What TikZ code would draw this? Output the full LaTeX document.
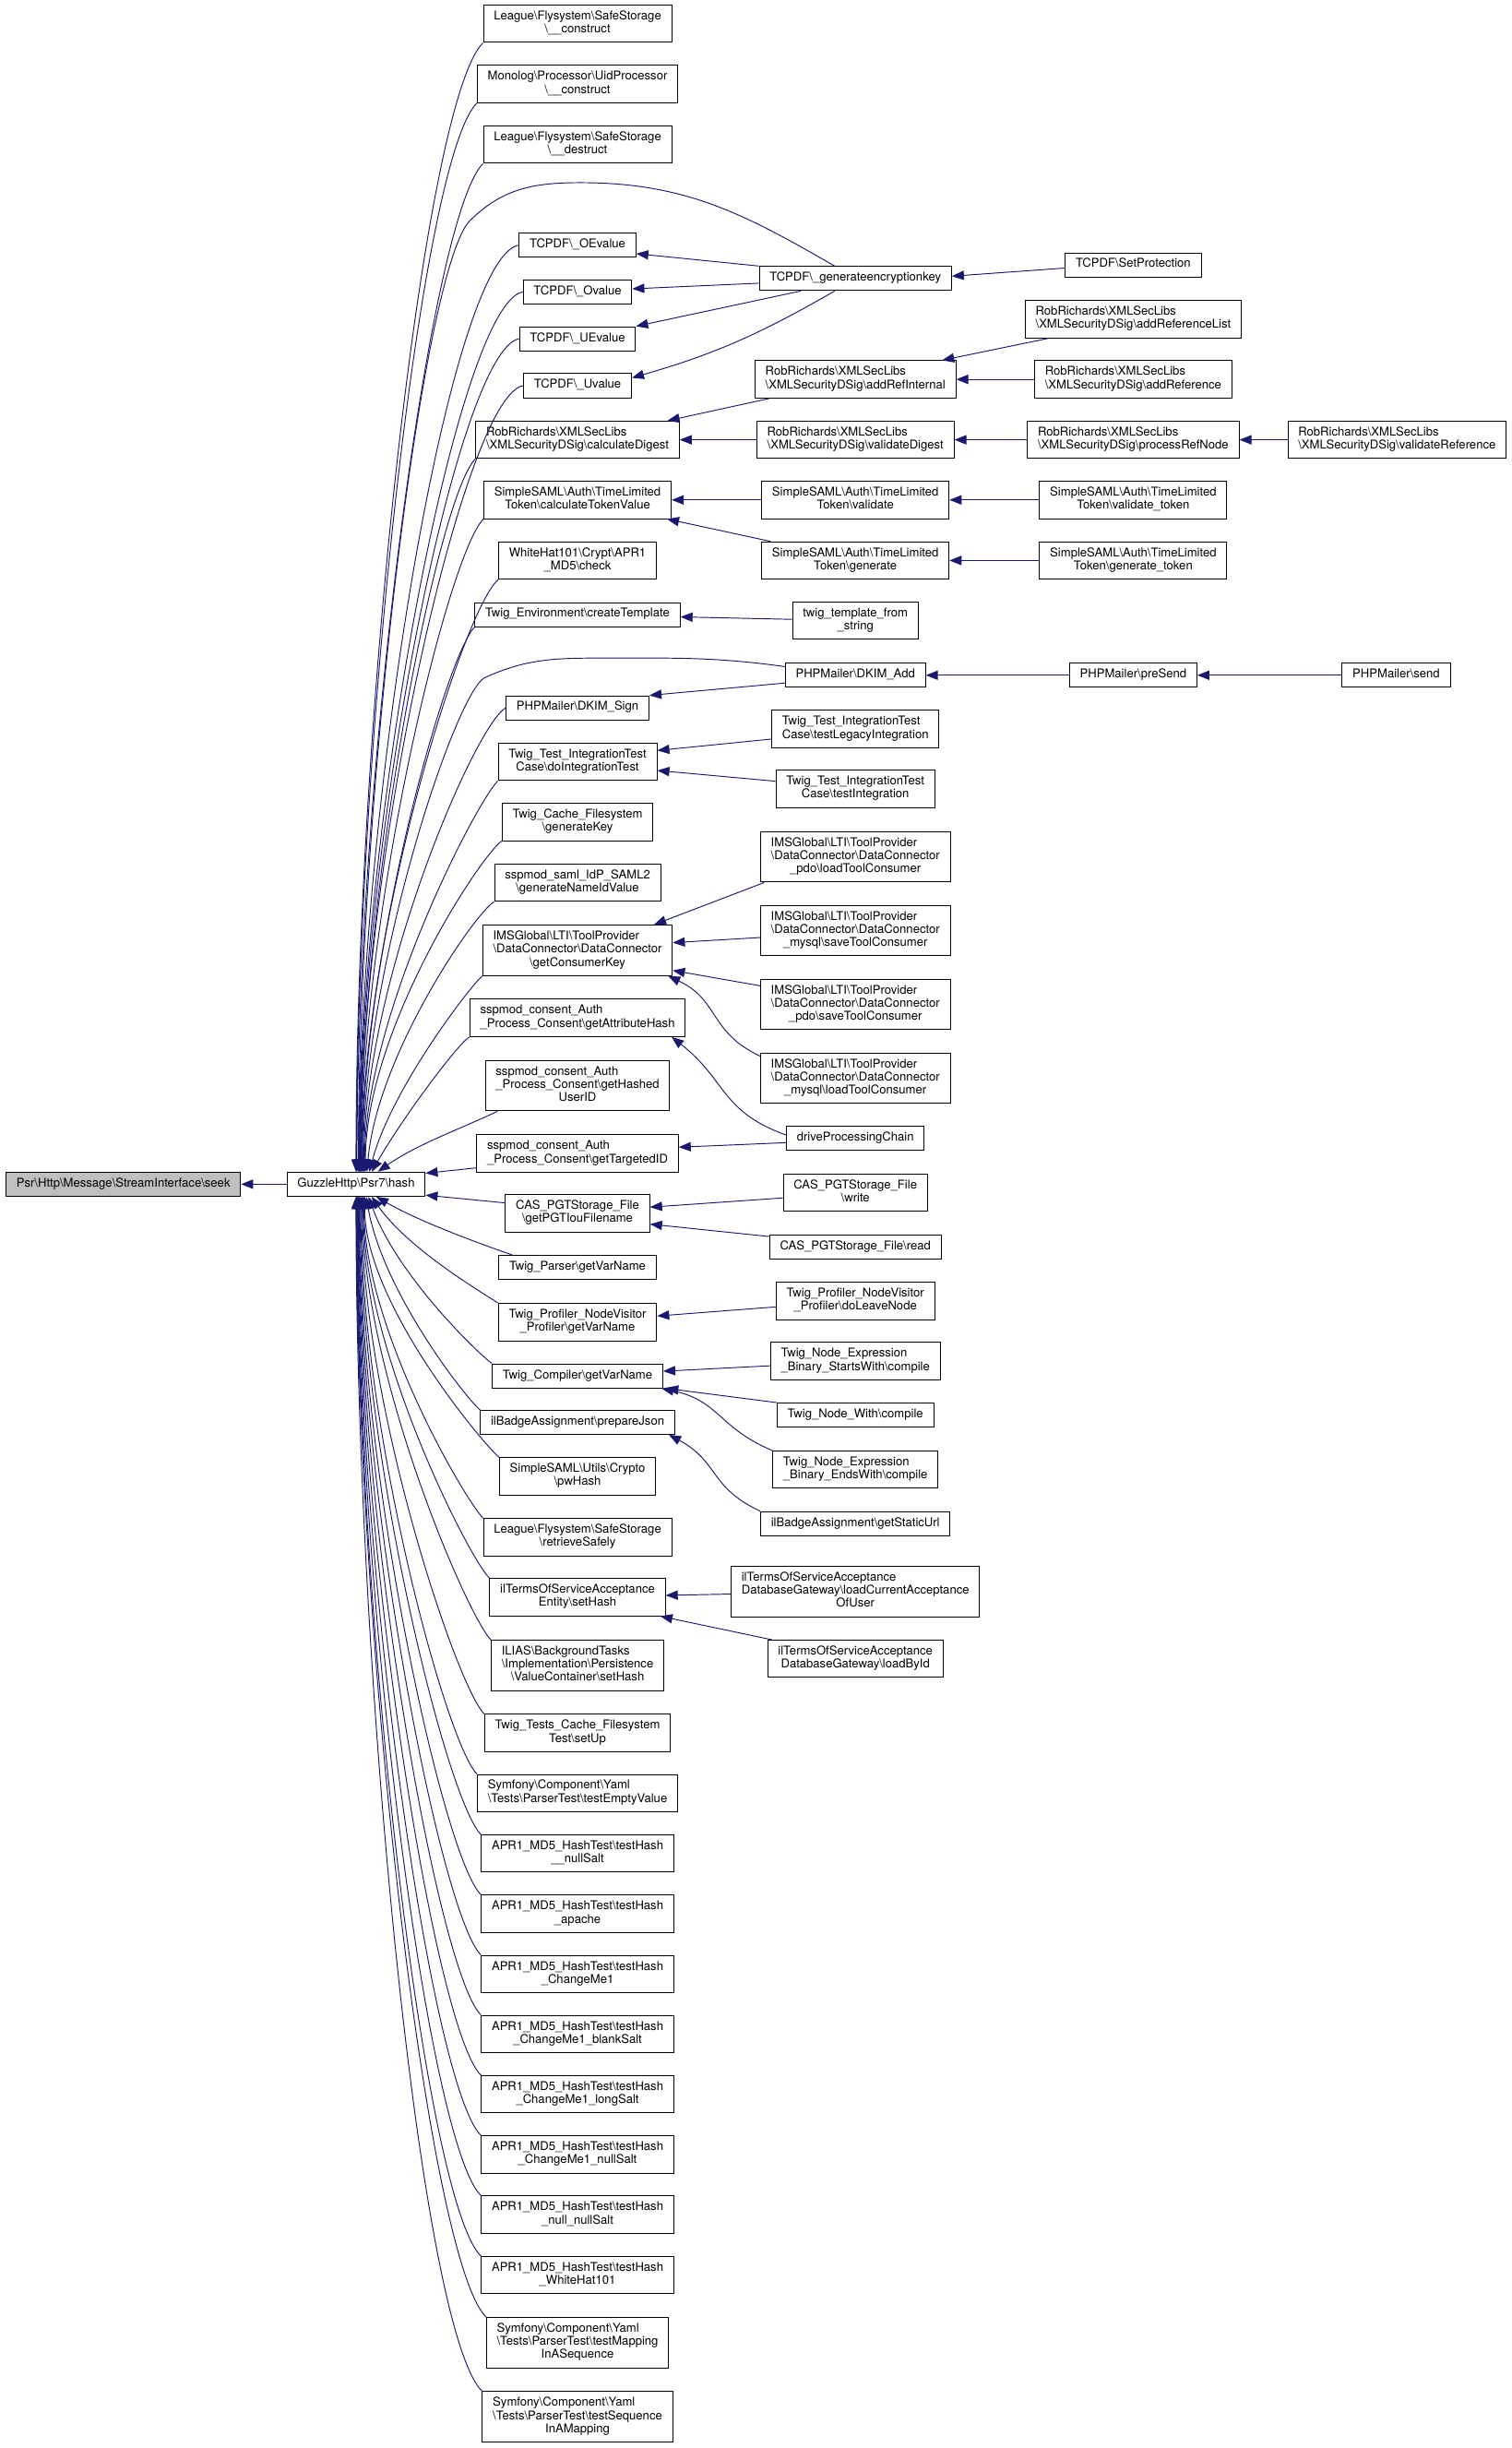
\documentclass[tikz,border=0pt]{standalone}
\usepackage{fontspec}
\setmainfont{TeX Gyre Heros}
\usetikzlibrary{arrows.meta,calc}
\definecolor{edgeblue}{HTML}{191970}
\definecolor{rootgray}{HTML}{BFBFBF}
\newcommand{\bsl}{\textbackslash}
\newcommand{\fni}[1]{\begin{tabular}{@{}c@{}}#1\end{tabular}}
\newcommand{\fnii}[2]{\begin{tabular}{@{}l@{}}#1\\\multicolumn{1}{@{}c@{}}{#2}\end{tabular}}
\newcommand{\fniii}[3]{\begin{tabular}{@{}l@{}}#1\\#2\\\multicolumn{1}{@{}c@{}}{#3}\end{tabular}}
\begin{document}
\begin{tikzpicture}[x=0.05cm, y=0.05cm,
	fn/.style={draw=black, line width=0.8pt, fill=white, inner xsep=9.5pt, inner ysep=5pt, font=\fontsize{11}{12}\selectfont},
	rootfn/.style={fn, fill=rootgray},
	calledge/.style={draw=edgeblue, line width=0.8pt, -{Triangle[length=11pt, width=8.5pt]}}]
	\useasboundingbox (0,0) rectangle (968.6,-1568);
	% root and hash
	\node[rootfn] (seek) at (79,-758.5) {\fni{Psr\bsl Http\bsl Message\bsl StreamInterface\bsl seek}};
	\node[fn] (hash) at (228.1,-758.5) {\fni{GuzzleHttp\bsl Psr7\bsl hash}};
	% first column
	\node[fn] (lfcon) at (370,-15.2) {\fnii{League\bsl Flysystem\bsl SafeStorage}{\bsl\_\_construct}};
	\node[fn] (mocon) at (370,-53.8) {\fnii{Monolog\bsl Processor\bsl UidProcessor}{\bsl\_\_construct}};
	\node[fn] (lfdes) at (370,-92.6) {\fnii{League\bsl Flysystem\bsl SafeStorage}{\bsl\_\_destruct}};
	\node[fn] (oev) at (370,-157) {\fni{TCPDF\bsl\_OEvalue}};
	\node[fn] (ov) at (370,-187) {\fni{TCPDF\bsl\_Ovalue}};
	\node[fn] (uev) at (370,-217) {\fni{TCPDF\bsl\_UEvalue}};
	\node[fn] (uv) at (370,-247) {\fni{TCPDF\bsl\_Uvalue}};
	\node[fn] (cdig) at (370,-281.7) {\fnii{RobRichards\bsl XMLSecLibs}{\bsl XMLSecurityDSig\bsl calculateDigest}};
	\node[fn] (ctok) at (370,-320.2) {\fnii{SimpleSAML\bsl Auth\bsl TimeLimited}{Token\bsl calculateTokenValue}};
	\node[fn] (apchk) at (370,-359) {\fnii{WhiteHat101\bsl Crypt\bsl APR1}{\_MD5\bsl check}};
	\node[fn] (ctpl) at (370,-393.7) {\fni{Twig\_Environment\bsl createTemplate}};
	\node[fn] (dsign) at (370,-453.4) {\fni{PHPMailer\bsl DKIM\_Sign}};
	\node[fn] (doint) at (370,-488) {\fnii{Twig\_Test\_IntegrationTest}{Case\bsl doIntegrationTest}};
	\node[fn] (gkey) at (370,-526.5) {\fnii{Twig\_Cache\_Filesystem}{\bsl generateKey}};
	\node[fn] (gnid) at (370,-565.4) {\fnii{sspmod\_saml\_IdP\_SAML2}{\bsl generateNameIdValue}};
	\node[fn] (gck) at (370,-608.7) {\fniii{IMSGlobal\bsl LTI\bsl ToolProvider}{\bsl DataConnector\bsl DataConnector}{\bsl getConsumerKey}};
	\node[fn] (gah) at (370,-652) {\fnii{sspmod\_consent\_Auth}{\_Process\_Consent\bsl getAttributeHash}};
	\node[fn] (ghu) at (370,-695.4) {\fniii{sspmod\_consent\_Auth}{\_Process\_Consent\bsl getHashed}{UserID}};
	\node[fn] (gtid) at (370,-738.8) {\fnii{sspmod\_consent\_Auth}{\_Process\_Consent\bsl getTargetedID}};
	\node[fn] (pgt) at (370,-777.2) {\fnii{CAS\_PGTStorage\_File}{\bsl getPGTIouFilename}};
	\node[fn] (tpvar) at (370,-811.9) {\fni{Twig\_Parser\bsl getVarName}};
	\node[fn] (pfvar) at (370,-846.8) {\fnii{Twig\_Profiler\_NodeVisitor}{\_Profiler\bsl getVarName}};
	\node[fn] (tcvar) at (370,-881.3) {\fni{Twig\_Compiler\bsl getVarName}};
	\node[fn] (pjson) at (370,-911) {\fni{ilBadgeAssignment\bsl prepareJson}};
	\node[fn] (pwh) at (370,-945.6) {\fnii{SimpleSAML\bsl Utils\bsl Crypto}{\bsl pwHash}};
	\node[fn] (rsafe) at (370,-984.5) {\fnii{League\bsl Flysystem\bsl SafeStorage}{\bsl retrieveSafely}};
	\node[fn] (tsh) at (370,-1023) {\fnii{ilTermsOfServiceAcceptance}{Entity\bsl setHash}};
	\node[fn] (ish) at (370,-1066.7) {\fniii{ILIAS\bsl BackgroundTasks}{\bsl Implementation\bsl Persistence}{\bsl ValueContainer\bsl setHash}};
	\node[fn] (setup) at (370,-1110) {\fnii{Twig\_Tests\_Cache\_Filesystem}{Test\bsl setUp}};
	\node[fn] (tev) at (370,-1148.5) {\fnii{Symfony\bsl Component\bsl Yaml}{\bsl Tests\bsl ParserTest\bsl testEmptyValue}};
	\node[fn] (th1) at (370,-1187.2) {\fnii{APR1\_MD5\_HashTest\bsl testHash}{\_\_nullSalt}};
	\node[fn] (th2) at (370,-1225.8) {\fnii{APR1\_MD5\_HashTest\bsl testHash}{\_apache}};
	\node[fn] (th3) at (370,-1264.4) {\fnii{APR1\_MD5\_HashTest\bsl testHash}{\_ChangeMe1}};
	\node[fn] (th4) at (370,-1302.8) {\fnii{APR1\_MD5\_HashTest\bsl testHash}{\_ChangeMe1\_blankSalt}};
	\node[fn] (th5) at (370,-1341.4) {\fnii{APR1\_MD5\_HashTest\bsl testHash}{\_ChangeMe1\_longSalt}};
	\node[fn] (th6) at (370,-1380) {\fnii{APR1\_MD5\_HashTest\bsl testHash}{\_ChangeMe1\_nullSalt}};
	\node[fn] (th7) at (370,-1418.5) {\fnii{APR1\_MD5\_HashTest\bsl testHash}{\_null\_nullSalt}};
	\node[fn] (th8) at (370,-1457.3) {\fnii{APR1\_MD5\_HashTest\bsl testHash}{\_WhiteHat101}};
	\node[fn] (tmap) at (370,-1500.5) {\fniii{Symfony\bsl Component\bsl Yaml}{\bsl Tests\bsl ParserTest\bsl testMapping}{InASequence}};
	\node[fn] (tseq) at (370,-1548) {\fniii{Symfony\bsl Component\bsl Yaml}{\bsl Tests\bsl ParserTest\bsl testSequence}{InAMapping}};
	% second column
	\node[fn] (gek) at (548,-178.4) {\fni{TCPDF\bsl\_generateencryptionkey}};
	\node[fn] (ari) at (548,-243) {\fnii{RobRichards\bsl XMLSecLibs}{\bsl XMLSecurityDSig\bsl addRefInternal}};
	\node[fn] (vdig) at (548,-281.7) {\fnii{RobRichards\bsl XMLSecLibs}{\bsl XMLSecurityDSig\bsl validateDigest}};
	\node[fn] (tval) at (548,-320.2) {\fnii{SimpleSAML\bsl Auth\bsl TimeLimited}{Token\bsl validate}};
	\node[fn] (tgen) at (548,-359) {\fnii{SimpleSAML\bsl Auth\bsl TimeLimited}{Token\bsl generate}};
	\node[fn] (tfs) at (548,-397.6) {\fnii{twig\_template\_from}{\_string}};
	\node[fn] (dadd) at (548,-432.5) {\fni{PHPMailer\bsl DKIM\_Add}};
	\node[fn] (tli) at (548,-467) {\fnii{Twig\_Test\_IntegrationTest}{Case\bsl testLegacyIntegration}};
	\node[fn] (tin) at (548,-505.3) {\fnii{Twig\_Test\_IntegrationTest}{Case\bsl testIntegration}};
	\node[fn] (ims1) at (548,-548.8) {\fniii{IMSGlobal\bsl LTI\bsl ToolProvider}{\bsl DataConnector\bsl DataConnector}{\_pdo\bsl loadToolConsumer}};
	\node[fn] (ims2) at (548,-596) {\fniii{IMSGlobal\bsl LTI\bsl ToolProvider}{\bsl DataConnector\bsl DataConnector}{\_mysql\bsl saveToolConsumer}};
	\node[fn] (ims3) at (548,-643.3) {\fniii{IMSGlobal\bsl LTI\bsl ToolProvider}{\bsl DataConnector\bsl DataConnector}{\_pdo\bsl saveToolConsumer}};
	\node[fn] (ims4) at (548,-690.6) {\fniii{IMSGlobal\bsl LTI\bsl ToolProvider}{\bsl DataConnector\bsl DataConnector}{\_mysql\bsl loadToolConsumer}};
	\node[fn] (dpc) at (548,-729.2) {\fni{driveProcessingChain}};
	\node[fn] (pgw) at (548,-763.9) {\fnii{CAS\_PGTStorage\_File}{\bsl write}};
	\node[fn] (pgr) at (548,-798.7) {\fni{CAS\_PGTStorage\_File\bsl read}};
	\node[fn] (dln) at (548,-833.2) {\fnii{Twig\_Profiler\_NodeVisitor}{\_Profiler\bsl doLeaveNode}};
	\node[fn] (bsw) at (548,-871.8) {\fnii{Twig\_Node\_Expression}{\_Binary\_StartsWith\bsl compile}};
	\node[fn] (nwc) at (548,-906.4) {\fni{Twig\_Node\_With\bsl compile}};
	\node[fn] (bew) at (548,-941.3) {\fnii{Twig\_Node\_Expression}{\_Binary\_EndsWith\bsl compile}};
	\node[fn] (gsu) at (548,-975.9) {\fni{ilBadgeAssignment\bsl getStaticUrl}};
	\node[fn] (lca) at (548,-1019.4) {\fniii{ilTermsOfServiceAcceptance}{DatabaseGateway\bsl loadCurrentAcceptance}{OfUser}};
	\node[fn] (lbi) at (548,-1062.5) {\fnii{ilTermsOfServiceAcceptance}{DatabaseGateway\bsl loadById}};
	% third and fourth column
	\node[fn] (setp) at (726,-169.7) {\fni{TCPDF\bsl SetProtection}};
	\node[fn] (arl) at (726,-204.5) {\fnii{RobRichards\bsl XMLSecLibs}{\bsl XMLSecurityDSig\bsl addReferenceList}};
	\node[fn] (aref) at (726,-243) {\fnii{RobRichards\bsl XMLSecLibs}{\bsl XMLSecurityDSig\bsl addReference}};
	\node[fn] (prn) at (726,-281.7) {\fnii{RobRichards\bsl XMLSecLibs}{\bsl XMLSecurityDSig\bsl processRefNode}};
	\node[fn] (vtok) at (726,-320.2) {\fnii{SimpleSAML\bsl Auth\bsl TimeLimited}{Token\bsl validate\_token}};
	\node[fn] (gtok) at (726,-359) {\fnii{SimpleSAML\bsl Auth\bsl TimeLimited}{Token\bsl generate\_token}};
	\node[fn] (presend) at (726,-432.5) {\fni{PHPMailer\bsl preSend}};
	\node[fn] (vref) at (895,-281.7) {\fnii{RobRichards\bsl XMLSecLibs}{\bsl XMLSecurityDSig\bsl validateReference}};
	\node[fn] (send) at (894.5,-432.5) {\fni{PHPMailer\bsl send}};
	% bends of the two long arcs
	\coordinate (gekpeak) at (372,-117);
	\coordinate (gekbend) at (300.6,-141.8);
	\coordinate (daddpeak) at (384,-421.5);
	\coordinate (daddbend) at (309.9,-434.4);
	% callers of hash, above it
	\draw[calledge] (lfcon.south west) .. controls ($(lfcon.south west)+(225:54)$) and ($(hash.north)+(0,285)$) .. (hash.north);
	\draw[calledge] (mocon.south west) .. controls ($(mocon.south west)+(225:51)$) and ($(hash.north)+(0.3,268)$) .. ($(hash.north)+(0.3,0)$);
	\draw[calledge] (lfdes.south west) .. controls ($(lfdes.south west)+(225:48)$) and ($(hash.north)+(0.6,254)$) .. ($(hash.north)+(0.6,0)$);
	\draw[calledge] ($(gek.north)+(-13.3,0)$) .. controls ($(gek.north)+(-13.3,0)+(150:67)$) and ($(gekpeak)+(67,0)$) .. (gekpeak)
		.. controls ($(gekpeak)+(-30,0)$) and ($(gekbend)+(45:30)$) .. (gekbend)
		.. controls ($(gekbend)+(228:45)$) and ($(hash.north)+(1.5,240)$) .. ($(hash.north)+(1.5,0)$);
	\draw[calledge] (oev.west) .. controls ($(oev.west)+(190:45)$) and ($(hash.north)+(1.8,235)$) .. ($(hash.north)+(1.8,0)$);
	\draw[calledge] (ov.west) .. controls ($(ov.west)+(190:42)$) and ($(hash.north)+(2.1,224)$) .. ($(hash.north)+(2.1,0)$);
	\draw[calledge] (uev.west) .. controls ($(uev.west)+(190:40)$) and ($(hash.north)+(2.4,212)$) .. ($(hash.north)+(2.4,0)$);
	\draw[calledge] (uv.west) .. controls ($(uv.west)+(190:38)$) and ($(hash.north)+(2.7,201)$) .. ($(hash.north)+(2.7,0)$);
	\draw[calledge] (cdig.south west) .. controls ($(cdig.south west)+(225:34)$) and ($(hash.north)+(3,181)$) .. ($(hash.north)+(3,0)$);
	\draw[calledge] (ctok.south west) .. controls ($(ctok.south west)+(225:32)$) and ($(hash.north)+(3.3,166)$) .. ($(hash.north)+(3.3,0)$);
	\draw[calledge] (apchk.south west) .. controls ($(apchk.south west)+(220:29)$) and ($(hash.north)+(3.6,153)$) .. ($(hash.north)+(3.6,0)$);
	\draw[calledge] (ctpl.south west) .. controls ($(ctpl.south west)+(225:26)$) and ($(hash.north)+(4,139)$) .. ($(hash.north)+(4,0)$);
	\draw[calledge] ($(dadd.north west)+(0,-2.5)$) .. controls ($(dadd.north west)+(0,-2.5)+(172:46)$) and ($(daddpeak)+(46,0)$) .. (daddpeak)
		.. controls ($(daddpeak)+(-29,0)$) and ($(daddbend)+(25:29)$) .. (daddbend)
		.. controls ($(daddbend)+(215:24)$) and ($(hash.north)+(4.5,128)$) .. ($(hash.north)+(4.5,0)$);
	\draw[calledge] (dsign.west) .. controls ($(dsign.west)+(210:23)$) and ($(hash.north)+(5,121)$) .. ($(hash.north)+(5,0)$);
	\draw[calledge] (doint.south west) .. controls ($(doint.south west)+(225:19)$) and ($(hash.north)+(5.5,100)$) .. ($(hash.north)+(5.5,0)$);
	\draw[calledge] (gkey.south west) .. controls ($(gkey.south west)+(215:17)$) and ($(hash.north)+(6,90)$) .. ($(hash.north)+(6,0)$);
	\draw[calledge] (gnid.south west) .. controls ($(gnid.south west)+(210:14)$) and ($(hash.north)+(7,0)+(85:75)$) .. ($(hash.north)+(7,0)$);
	\draw[calledge] (gck.south west) .. controls ($(gck.south west)+(220:10)$) and ($(hash.north)+(8.5,0)+(75:55)$) .. ($(hash.north)+(8.5,0)$);
	\draw[calledge] (gah.south west) .. controls ($(gah.south west)+(210:8)$) and ($(hash.north)+(10,0)+(60:42)$) .. ($(hash.north)+(10,0)$);
	\draw[calledge] ($(ghu.south west)+(8,0)$) .. controls ($(ghu.south west)+(8,0)+(205:30)$) and ($(hash.north)+(14,0)+(35:30)$) .. ($(hash.north)+(14,0)$);
	% callers of hash, at its side
	\draw[calledge] ($(gtid.south west)+(0,3)$) -- ($(hash.north east)+(0,-1)$);
	\draw[calledge] ($(pgt.north west)+(0,-5.5)$) -- ($(hash.south east)+(0,1)$);
	% callers of hash, below it
	\draw[calledge] ($(tpvar.north west)+(9,0)$) .. controls ($(tpvar.north west)+(9,0)+(160:7)$) and ($(hash.south)+(13,0)+(-30:37)$) .. ($(hash.south)+(13,0)$);
	\draw[calledge] (pfvar.north west) .. controls ($(pfvar.north west)+(145:8)$) and ($(hash.south)+(10,0)+(-55:42)$) .. ($(hash.south)+(10,0)$);
	\draw[calledge] (tcvar.north west) .. controls ($(tcvar.north west)+(145:10)$) and ($(hash.south)+(8,0)+(-70:54)$) .. ($(hash.south)+(8,0)$);
	\draw[calledge] (pjson.north west) .. controls ($(pjson.north west)+(140:12)$) and ($(hash.south)+(6.5,0)+(-80:62)$) .. ($(hash.south)+(6.5,0)$);
	\draw[calledge] (pwh.north west) .. controls ($(pwh.north west)+(140:13)$) and ($(hash.south)+(5.5,-68)$) .. ($(hash.south)+(5.5,0)$);
	\draw[calledge] (rsafe.north west) .. controls ($(rsafe.north west)+(135:16)$) and ($(hash.south)+(5,-84)$) .. ($(hash.south)+(5,0)$);
	\draw[calledge] (tsh.north west) .. controls ($(tsh.north west)+(135:19)$) and ($(hash.south)+(4.5,-98)$) .. ($(hash.south)+(4.5,0)$);
	\draw[calledge] (ish.north west) .. controls ($(ish.north west)+(135:21)$) and ($(hash.south)+(4,-113)$) .. ($(hash.south)+(4,0)$);
	\draw[calledge] (setup.north west) .. controls ($(setup.north west)+(135:25)$) and ($(hash.south)+(3.5,-132)$) .. ($(hash.south)+(3.5,0)$);
	\draw[calledge] (tev.north west) .. controls ($(tev.north west)+(135:28)$) and ($(hash.south)+(3,-148)$) .. ($(hash.south)+(3,0)$);
	\draw[calledge] (th1.north west) .. controls ($(th1.north west)+(135:31)$) and ($(hash.south)+(2.5,-163)$) .. ($(hash.south)+(2.5,0)$);
	\draw[calledge] (th2.north west) .. controls ($(th2.north west)+(135:34)$) and ($(hash.south)+(2,-178)$) .. ($(hash.south)+(2,0)$);
	\draw[calledge] (th3.north west) .. controls ($(th3.north west)+(135:36)$) and ($(hash.south)+(1.7,-193)$) .. ($(hash.south)+(1.7,0)$);
	\draw[calledge] (th4.north west) .. controls ($(th4.north west)+(135:39)$) and ($(hash.south)+(1.4,-208)$) .. ($(hash.south)+(1.4,0)$);
	\draw[calledge] (th5.north west) .. controls ($(th5.north west)+(135:42)$) and ($(hash.south)+(1.1,-223)$) .. ($(hash.south)+(1.1,0)$);
	\draw[calledge] (th6.north west) .. controls ($(th6.north west)+(135:45)$) and ($(hash.south)+(0.8,-238)$) .. ($(hash.south)+(0.8,0)$);
	\draw[calledge] (th7.north west) .. controls ($(th7.north west)+(135:48)$) and ($(hash.south)+(0.6,-253)$) .. ($(hash.south)+(0.6,0)$);
	\draw[calledge] (th8.north west) .. controls ($(th8.north west)+(135:51)$) and ($(hash.south)+(0.4,-268)$) .. ($(hash.south)+(0.4,0)$);
	\draw[calledge] (tmap.north west) .. controls ($(tmap.north west)+(135:53)$) and ($(hash.south)+(0.2,-283)$) .. ($(hash.south)+(0.2,0)$);
	\draw[calledge] (tseq.north west) .. controls ($(tseq.north west)+(135:57)$) and ($(hash.south)+(0,-301)$) .. (hash.south);
	% the other calls
	\draw[calledge] (hash) -- (seek);
	\draw[calledge] ($(setp.west)+(0,-2)$) -- ($(gek.east)+(0,1.5)$);
	\draw[calledge] (gek.north west) -- ($(oev.east)+(0,-5.5)$);
	\draw[calledge] ($(gek.west)+(0,-3)$) -- ($(ov.east)+(0,2)$);
	\draw[calledge] ($(gek.south)+(-35,0)$) -- (uev.north east);
	\draw[calledge] ($(gek.south)+(-13.3,0)$) .. controls ($(gek.south)+(-13.3,0)+(210:55)$) and ($(uv.east)+(0,5)+(16:55)$) .. ($(uv.east)+(0,5)$);
	\draw[calledge] ($(ari.south west)+(9.5,0)$) -- ($(cdig.north east)+(-7.8,0)$);
	\draw[calledge] (vdig) -- (cdig);
	\draw[calledge] ($(arl.south west)+(15,0)$) -- ($(ari.north east)+(-9,0)$);
	\draw[calledge] (aref) -- (ari);
	\draw[calledge] (prn) -- (vdig);
	\draw[calledge] (vref) -- (prn);
	\draw[calledge] (tval) -- (ctok);
	\draw[calledge] ($(tgen.north west)+(6,0)$) -- ($(ctok.south east)+(-3,0)$);
	\draw[calledge] (vtok) -- (tval);
	\draw[calledge] (gtok) -- (tgen);
	\draw[calledge] (tfs) -- (ctpl);
	\draw[calledge] ($(dadd.south west)+(0,3)$) -- (dsign.north east);
	\draw[calledge] (presend) -- (dadd);
	\draw[calledge] (send) -- (presend);
	\draw[calledge] ($(tli.west)+(0,-6.4)$) -- ($(doint.east)+(0,7.3)$);
	\draw[calledge] ($(tin.west)+(0,4.9)$) -- ($(doint.east)+(0,-5.5)$);
	\draw[calledge] ($(ims1.south west)+(2.7,0)$) -- ($(gck.north east)+(-12,0)$);
	\draw[calledge] ($(ims2.west)+(0,-4.5)$) -- ($(gck.east)+(0,4.9)$);
	\draw[calledge] ($(ims3.west)+(0,11.9)$) -- ($(gck.east)+(0,-12.9)$);
	\draw[calledge] ($(ims4.north west)+(0,-2.3)$) .. controls ($(ims4.north west)+(0,-2.3)+(155:36)$) and ($(gck.south east)+(-3,0)+(-25:36)$) .. ($(gck.south east)+(-3,0)$);
	\draw[calledge] ($(dpc.west)+(0,2.2)$) .. controls ($(dpc.west)+(0,2.2)+(160:45)$) and ($(gah.south east)+(-9,0)+(-38:45)$) .. ($(gah.south east)+(-9,0)$);
	\draw[calledge] ($(dpc.west)+(0,-2.7)$) -- ($(gtid.east)+(0,4)$);
	\draw[calledge] ($(pgw.west)+(0,-3.4)$) -- ($(pgt.east)+(0,4)$);
	\draw[calledge] ($(pgr.west)+(0,6.7)$) -- ($(pgt.east)+(0,-6.9)$);
	\draw[calledge] (dln) -- (pfvar);
	\draw[calledge] ($(bsw.west)+(0,-3)$) -- ($(tcvar.east)+(0,3)$);
	\draw[calledge] (nwc.north west) -- ($(tcvar.south east)+(2,0)$);
	\draw[calledge] (bew.north west) .. controls ($(bew.north west)+(157:38)$) and ($(tcvar.south east)+(-1,0)+(-12:38)$) .. ($(tcvar.south east)+(-1,0)$);
	\draw[calledge] (gsu.north west) .. controls ($(gsu.north west)+(155:36)$) and ($(pjson.south east)+(-4,0)+(-28:36)$) .. ($(pjson.south east)+(-4,0)$);
	\draw[calledge] (lca) -- (tsh);
	\draw[calledge] ($(lbi.north west)+(3,0)$) -- ($(tsh.south east)+(-3.4,0)$);
\end{tikzpicture}
\end{document}
